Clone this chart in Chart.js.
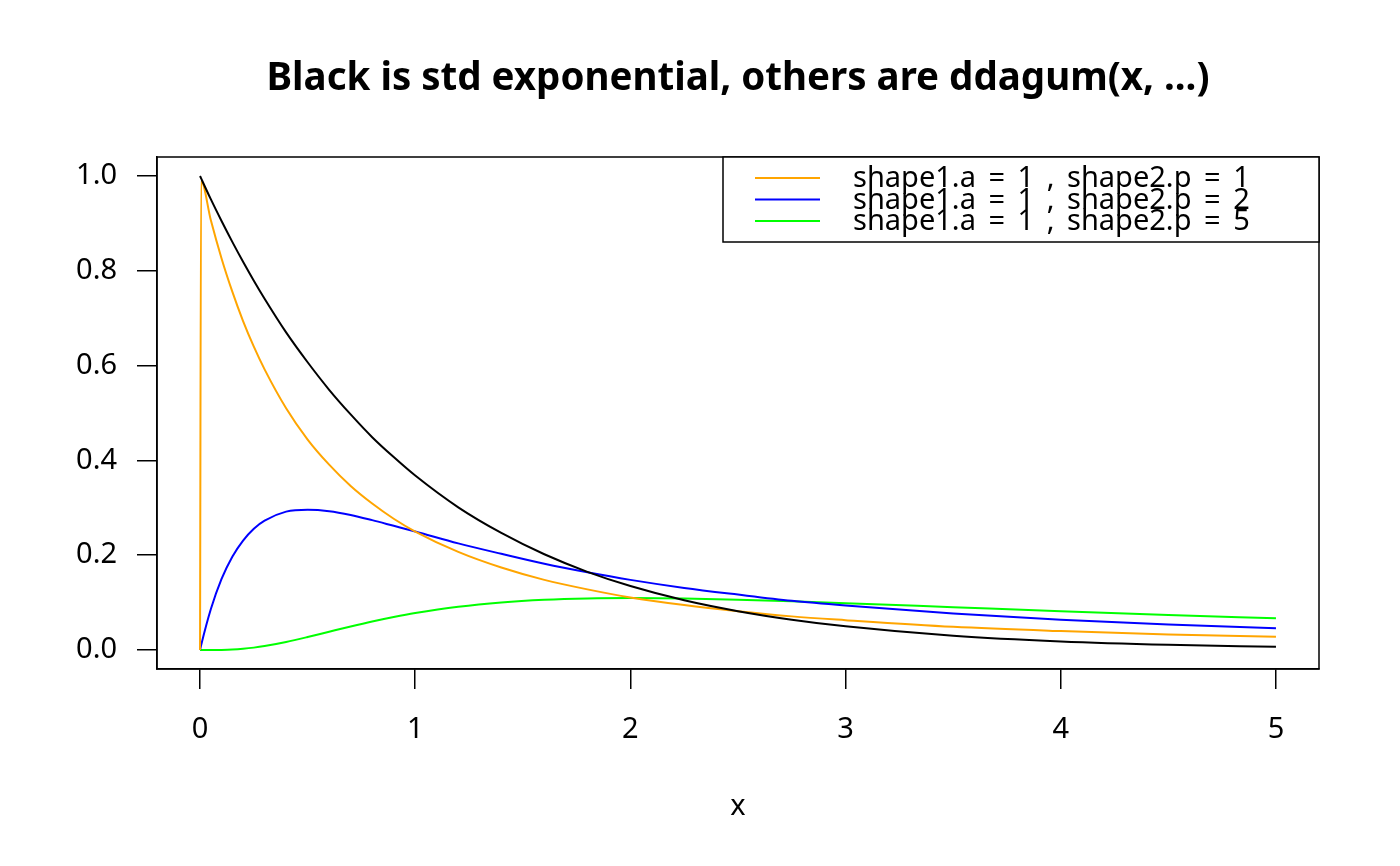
<!DOCTYPE html>
<html>
<head>
<meta charset="utf-8">
<script src="https://cdn.jsdelivr.net/npm/chart.js@4/dist/chart.umd.min.js"></script>
<style>
  html, body { margin: 0; padding: 0; background: #fff; }
  #wrap { width: 1400px; height: 866px; position: relative; }
</style>
</head>
<body>
<div id="wrap"><canvas id="plot"></canvas></div>
<script>
// values
const xs = [0, 0.005, 0.05, 0.1, 0.15, 0.2, 0.25, 0.3, 0.4, 0.5, 0.6, 0.7, 0.8, 0.9, 1.0,
            1.2, 1.4, 1.6, 1.8, 2.0, 2.25, 2.5, 2.75, 3.0, 3.5, 4.0, 4.5, 5.0];
const expStd = [1, 0.995, 0.951, 0.905, 0.861, 0.819, 0.779, 0.741, 0.670, 0.607, 0.549, 0.497, 0.449, 0.407, 0.368,
                0.301, 0.247, 0.202, 0.165, 0.135, 0.105, 0.082, 0.064, 0.050, 0.030, 0.018, 0.011, 0.007];
const dagumP1 = [0, 0.990, 0.907, 0.826, 0.756, 0.694, 0.640, 0.592, 0.510, 0.444, 0.391, 0.346, 0.309, 0.277, 0.250,
                 0.207, 0.174, 0.148, 0.128, 0.111, 0.095, 0.082, 0.071, 0.063, 0.049, 0.040, 0.033, 0.028];
const dagumP2 = [0, 0.010, 0.086, 0.150, 0.197, 0.231, 0.256, 0.273, 0.292, 0.296, 0.293, 0.285, 0.274, 0.262, 0.250,
                 0.225, 0.203, 0.182, 0.164, 0.148, 0.131, 0.117, 0.104, 0.094, 0.077, 0.064, 0.054, 0.046];
const dagumP5 = [0, 0, 0, 0.0003, 0.0011, 0.0027, 0.0051, 0.0084, 0.0170, 0.0274, 0.0386, 0.0497, 0.0602, 0.0697, 0.0781,
                 0.0914, 0.1005, 0.1061, 0.1089, 0.1097, 0.1087, 0.1062, 0.1028, 0.0989, 0.0904, 0.0819, 0.0741, 0.0670];

const xTicks = [0, 1, 2, 3, 4, 5];
const yTicks = [0, 0.2, 0.4, 0.6, 0.8, 1.0];
const legendLabels = ['shape1.a = 1 , shape2.p = 1', 'shape1.a = 1 , shape2.p = 2', 'shape1.a = 1 , shape2.p = 5'];
const legendColors = ['#FFA500', '#0000FF', '#00FF00'];
const titleText = 'Black is std exponential, others are ddagum(x, ...)';

const FONT = '"Noto Sans", "Open Sans", sans-serif';

function pts(ys) {
    return xs.map((x, i) => ({ x: x, y: ys[i] }));
}

function series(ys, color) {
    return {
        data: pts(ys),
        borderColor: color,
        borderWidth: 2,
        pointRadius: 0,
        fill: false,
        cubicInterpolationMode: 'monotone'
    };
}

// draws words one by one so the gaps can be a bit wider than a plain space
function spacedText(ctx, text, x, y, extra) {
    const sp = ctx.measureText(' ').width + extra;
    text.split(' ').forEach(w => {
        ctx.fillText(w, x, y);
        x += ctx.measureText(w).width + sp;
    });
}

// R-style frame, title, axis label and legend
const rFrame = {
    id: 'rFrame',
    afterDraw(chart) {
        const ctx = chart.ctx;
        const a = chart.chartArea;
        ctx.save();
        ctx.strokeStyle = '#000';
        ctx.lineWidth = 1.5;
        ctx.strokeRect(a.left, a.top, a.right - a.left, a.bottom - a.top);

        const cx = (a.left + a.right) / 2;
        ctx.fillStyle = '#000';
        ctx.textAlign = 'center';
        ctx.textBaseline = 'middle';
        ctx.font = 'bold 38.5px ' + FONT;
        ctx.fillText(titleText, cx, 79);
        ctx.font = '29px ' + FONT;
        ctx.fillText('x', cx, 807);

        // legend
        const lx0 = 723, ly0 = a.top, lx1 = a.right, ly1 = 242;
        ctx.fillStyle = '#fff';
        ctx.fillRect(lx0, ly0, lx1 - lx0, ly1 - ly0);
        ctx.strokeRect(lx0, ly0, lx1 - lx0, ly1 - ly0);
        ctx.font = '29px ' + FONT;
        ctx.textAlign = 'left';
        legendLabels.forEach((lab, i) => {
            const y = 178 + i * 21.5;
            ctx.strokeStyle = legendColors[i];
            ctx.lineWidth = 2;
            ctx.beginPath();
            ctx.moveTo(755, y);
            ctx.lineTo(820, y);
            ctx.stroke();
            ctx.fillStyle = '#000';
            spacedText(ctx, lab, 853, y + 1, 5);
        });
        ctx.restore();
    }
};

const tickFont = { family: FONT, size: 29 };

new Chart(document.getElementById('plot'), {
    type: 'line',
    data: {
        datasets: [
            series(expStd, '#000000'),
            series(dagumP1, legendColors[0]),
            series(dagumP2, legendColors[1]),
            series(dagumP5, legendColors[2])
        ]
    },
    options: {
        responsive: true,
        maintainAspectRatio: false,
        animation: false,
        devicePixelRatio: 1,
        layout: { padding: { top: 157, right: 81, left: 0, bottom: 0 } },
        plugins: { legend: { display: false }, title: { display: false }, tooltip: { enabled: false } },
        scales: {
            x: {
                type: 'linear',
                min: -0.2,
                max: 5.2,
                afterBuildTicks: s => { s.ticks = xTicks.map(v => ({ value: v })); },
                afterFit: s => { s.height = 197; },
                grid: { display: true, drawOnChartArea: false, drawTicks: true, tickLength: 20, color: '#000', lineWidth: 1.5 },
                border: { display: true, color: '#000', width: 1.5 },
                ticks: { font: tickFont, color: '#000', padding: 23, maxRotation: 0, autoSkip: false,
                         callback: v => String(v) }
            },
            y: {
                type: 'linear',
                min: -0.04,
                max: 1.04,
                afterBuildTicks: s => { s.ticks = yTicks.map(v => ({ value: v })); },
                afterFit: s => { s.width = 157; },
                grid: { display: true, drawOnChartArea: false, drawTicks: true, tickLength: 20, color: '#000', lineWidth: 1.5 },
                border: { display: true, color: '#000', width: 1.5 },
                ticks: { font: tickFont, color: '#000', padding: 20, autoSkip: false,
                         callback: v => v.toFixed(1) }
            }
        }
    },
    plugins: [rFrame]
});
</script>
</body>
</html>
